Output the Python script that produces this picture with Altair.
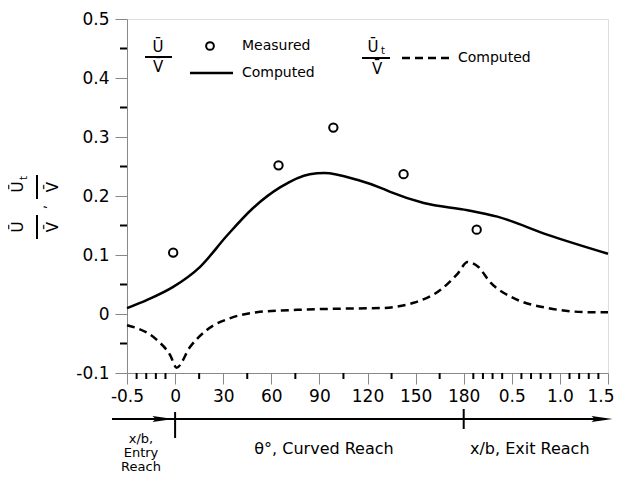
import altair as alt
import pandas as pd

FONT = "DejaVu Sans"

# Composite horizontal position: 0..1 = entry reach x/b from -0.5 to 0,
# 1..7 = curved reach theta 0..180 deg, 7..10 = exit reach x/b 0..1.5
tick_labels = ["-0.5", "0", "30", "60", "90", "120", "150", "180", "0.5", "1.0", "1.5"]
major_x = list(range(11))
minor_x = [0.2, 0.4, 0.6, 0.8, 1.5, 2.5, 3.5, 4.5, 5.5, 6.5,
           7.2, 7.4, 7.6, 7.8, 8.2, 8.4, 8.6, 8.8, 9.2, 9.4, 9.6, 9.8]
major_y = [-0.1, 0, 0.1, 0.2, 0.3, 0.4, 0.5]
minor_y = [-0.05, 0.05, 0.15, 0.25, 0.35, 0.45]

measured_pos = [0.96, 3.15, 4.29, 5.75, 7.27]
measured_u = [0.104, 0.252, 0.316, 0.237, 0.143]

computed_u_pos = [0, 0.42, 0.96, 1.52, 2.08, 2.6, 3.19, 3.8, 4.1, 4.8, 5.3, 5.5, 6.17, 7.08, 7.7, 8.75, 10]
computed_u = [0.010, 0.024, 0.046, 0.080, 0.133, 0.178, 0.215, 0.237, 0.239, 0.227, 0.213, 0.206, 0.188, 0.176, 0.165, 0.134, 0.102]

computed_ut_pos = [0, 0.62, 0.9, 1.03, 1.31, 1.66, 2.15, 2.7, 3.54, 4.4, 5.27, 5.96, 6.52, 6.88, 7.08, 7.3, 7.56, 8.04, 8.75, 9.65, 10]
computed_ut = [-0.019, -0.044, -0.070, -0.091, -0.056, -0.027, -0.007, 0.003, 0.007, 0.009, 0.010, 0.019, 0.041, 0.069, 0.088, 0.080, 0.053, 0.027, 0.010, 0.003, 0.003]

W, H = 481, 354

label_arr = "[" + ",".join("'" + t + "'" for t in tick_labels) + "]"
x_scale = alt.Scale(domain=[0, 10], nice=False, zero=False)
y_scale = alt.Scale(domain=[-0.1, 0.5], nice=False, zero=False)
x_axis = alt.Axis(values=major_x, labelExpr=label_arr + "[datum.value]", title=None,
                  tickSize=11, labelPadding=4, labelFontSize=17, labelFont=FONT,
                  labelFlush=False, labelOverlap=False, grid=False,
                  labelAlign={"condition": {"test": "datum.value == 10", "value": "right"}, "value": "center"},
                  labelOffset={"condition": {"test": "datum.value == 10", "value": 6}, "value": 0})
y_axis = alt.Axis(values=major_y, title=None, tickSize=12, labelPadding=6,
                  labelFontSize=17, labelFont=FONT, grid=False, labelFlush=False,
                  labelOverlap=False,
                  labelExpr="datum.value == 0 ? '0' : (datum.value < 0 ? '-' + format(-datum.value, '.1f') : format(datum.value, '.1f'))")


def X(field):
    return alt.X(field + ":Q", scale=x_scale, axis=x_axis)


def Y(field):
    return alt.Y(field + ":Q", scale=y_scale, axis=y_axis)


df_u = pd.DataFrame({"pos": computed_u_pos, "val": computed_u})
df_ut = pd.DataFrame({"pos": computed_ut_pos, "val": computed_ut})
df_m = pd.DataFrame({"pos": measured_pos, "val": measured_u})

line_u = alt.Chart(df_u).mark_line(color="black", strokeWidth=2.5, interpolate="monotone").encode(x=X("pos"), y=Y("val"))
line_ut = alt.Chart(df_ut).mark_line(color="black", strokeWidth=2.5, strokeDash=[8, 5], interpolate="monotone").encode(x=X("pos"), y=Y("val"))
pts = alt.Chart(df_m).mark_point(shape="circle", filled=False, color="black", strokeWidth=2, size=70, opacity=1).encode(x=X("pos"), y=Y("val"))

minor_x_ticks = alt.Chart(pd.DataFrame({"pos": minor_x})).mark_rule(color="black", strokeWidth=2).encode(
    x=X("pos"), y=alt.value(H), y2=alt.value(H + 6))
minor_y_ticks = alt.Chart(pd.DataFrame({"val": minor_y})).mark_rule(color="black", strokeWidth=2).encode(
    y=Y("val"), x=alt.value(-7), x2=alt.value(0))

dummy = pd.DataFrame({"a": [0]})


def txt(s, x, y, size=15, angle=0, align="center", baseline="middle"):
    enc = dict(x=alt.value(x), y=alt.value(y))
    if angle:
        enc["angle"] = alt.value(angle)
    return alt.Chart(dummy).mark_text(text=s, fontSize=size, angle=angle, align=align,
                                      baseline=baseline, font=FONT, color="black").encode(**enc)


def hline(x1, x2, y, width=2, dash=None):
    kw = dict(color="black", strokeWidth=width)
    if dash is not None:
        kw["strokeDash"] = dash
    return alt.Chart(dummy).mark_rule(**kw).encode(x=alt.value(x1), x2=alt.value(x2), y=alt.value(y))


def vline(x, y1, y2, width=2):
    return alt.Chart(dummy).mark_rule(color="black", strokeWidth=width).encode(
        x=alt.value(x), y=alt.value(y1), y2=alt.value(y2))


arrow_path = "M-1,-0.28L1,0L-1,0.28L-0.7,0Z"


def arrowhead(x, y):
    return alt.Chart(dummy).mark_point(shape=arrow_path, filled=True, color="black", size=441,
                                       opacity=1, strokeWidth=0).encode(x=alt.value(x), y=alt.value(y))


UB = "\u016A"
VB = "V\u0304"
AY = 400  # arrow line level below the axis labels

annot = [
    # legend
    txt(UB, 31, 28), hline(18, 45, 38), txt(VB, 31, 48),
    alt.Chart(dummy).mark_point(shape="circle", filled=False, color="black", strokeWidth=2, size=60, opacity=1).encode(
        x=alt.value(83), y=alt.value(27)),
    txt("Measured", 115, 27, size=14, align="left"),
    hline(63, 106, 54, width=2.5),
    txt("Computed", 115, 54, size=14, align="left"),
    txt(UB, 246, 28), txt("t", 256, 32, size=10), hline(235, 263, 39), txt(VB, 250, 50),
    hline(275, 323, 39, width=2.5, dash=[8, 5]),
    txt("Computed", 331, 39, size=14, align="left"),
    # y axis title (rotated stacked fractions)
    txt(UB, -109, 168, angle=270), txt("t", -103, 159, size=10, angle=270), vline(-90, 156, 180), txt(VB, -74, 168, angle=270),
    txt(",", -86, 188, size=14, angle=270),
    txt(UB, -109, 208, angle=270), vline(-90, 196, 220), txt(VB, -74, 208, angle=270),
    # reach annotations under the axis
    hline(-15, 478, AY),
    arrowhead(36, AY), arrowhead(475, AY),
    alt.Chart(dummy).mark_rule(color="black", strokeWidth=2).encode(x=alt.X(datum=1, scale=x_scale, axis=x_axis), y=alt.value(AY - 7), y2=alt.value(AY + 19)),
    alt.Chart(dummy).mark_rule(color="black", strokeWidth=2).encode(x=alt.X(datum=7, scale=x_scale, axis=x_axis), y=alt.value(AY - 10), y2=alt.value(AY + 10)),
    txt("x/b,", 14, 420, size=13),
    txt("Entry", 14, 434, size=13),
    txt("Reach", 14, 448, size=13),
    txt("\u03b8\u00b0, Curved Reach", 197, 430, size=16),
    txt("x/b, Exit Reach", 343, 430, size=16, align="left"),
]

chart = alt.layer(line_u, line_ut, pts, minor_x_ticks, minor_y_ticks, *annot).properties(
    width=W, height=H,
    padding={"left": 119, "top": 11, "right": 6, "bottom": 105},
    autosize=alt.AutoSizeParams(type="none"),
).configure_view(stroke="black", strokeWidth=2).configure_axis(
    domainColor="black", domainWidth=2, tickColor="black", tickWidth=2, labelColor="black"
).configure(background="white")

chart.save("out.html", embed_options={"renderer": "svg", "actions": False})
